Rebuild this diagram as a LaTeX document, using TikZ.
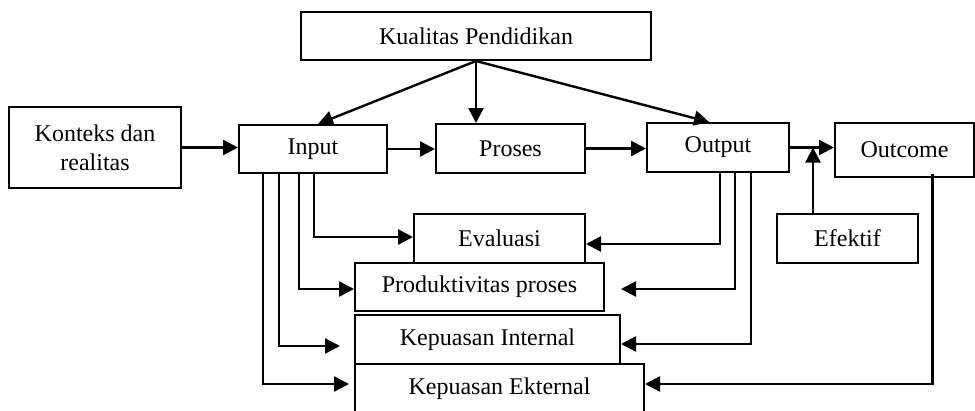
\documentclass[tikz,border=0pt]{standalone}
\usepackage{fontspec}
\setmainfont{Liberation Serif}
\usetikzlibrary{arrows.meta}
\tikzset{
  blok/.style={draw,fill=white,line width=2pt,inner sep=0pt,anchor=north west,
               align=center,font=\fontsize{24}{29}\selectfont},
  panah/.style={line width=2.4pt,-{Triangle[length=15pt,width=15pt]}},
  garis/.style={line width=2.4pt}
}

\begin{document}
\begin{tikzpicture}[x=1pt,y=-1pt]
    \useasboundingbox (0,0) rectangle (975,410);
    \clip (0,0) rectangle (975,410);
    % kotak utama
    \node[blok,minimum width=350pt,minimum height=48pt] (kualitas) at (300,11) {Kualitas Pendidikan};
    \node[blok,minimum width=172pt,minimum height=81pt] (konteks) at (8,106) {Konteks dan\\realitas};
    \node[blok,minimum width=148pt,minimum height=48pt] (input) at (238,124) {Input};
    \node[blok,minimum width=149pt,minimum height=49pt] (proses) at (435,123) {Proses};
    \node[blok,minimum width=142pt,minimum height=49pt] (output) at (646,122) {Output};
    \node[blok,minimum width=139pt,minimum height=54pt] (outcome) at (834,122) {Outcome};
    \node[blok,minimum width=141pt,minimum height=49pt] (efektif) at (776,213) {Efektif};
    % kotak hasil
    \node[blok,minimum width=171pt,minimum height=49pt] (evaluasi) at (413,213) {Evaluasi};
    \node[blok,minimum width=249pt,minimum height=48pt] (produktivitas) at (354,262) {Produktivitas proses};
    \node[blok,minimum width=265pt,minimum height=49pt] (kepint) at (354,314) {Kepuasan Internal};
    \node[blok,minimum width=289pt,minimum height=50pt] (kepeks) at (354,363) {Kepuasan Ekternal};

    % ujung panah yang tidak menyentuh kotak
    \coordinate (ujungInt) at ([xshift=-14pt,yshift=-6.5pt]kepint.west);
    \coordinate (ujungEks) at ([xshift=-5pt,yshift=5pt]kepeks.west);
    \coordinate (ujungProd) at ([xshift=16pt,yshift=-2pt]produktivitas.east);

    % alur utama
    \draw[panah] (konteks.east) -- (konteks.east -| input.west);
    \draw[panah] (input.east) -- (input.east -| proses.west);
    \draw[panah] (proses.east) -- (proses.east -| output.west);
    \draw[panah] (output.east) -- (output.east -| outcome.west);
    \draw[panah] ([xshift=37pt]efektif.north west) -- ([xshift=37pt]efektif.north west |- output.east);

    % dari kualitas
    \draw[panah] (kualitas.south) -- ([xshift=5pt]input.north);
    \draw[panah] (kualitas.south) -- (kualitas.south |- proses.north);
    \draw[panah] (kualitas.south) -- ([xshift=-9pt]output.north);

    % dari input
    \draw[panah] ([xshift=76pt]input.south west) |- ([yshift=1.5pt]evaluasi.west);
    \draw[panah] ([xshift=61pt]input.south west) |- ([yshift=-2pt]produktivitas.west);
    \draw[panah] ([xshift=41pt]input.south west) |- (ujungInt);
    \draw[panah] ([xshift=25pt]input.south west) |- (ujungEks);

    % dari output
    \draw[panah] ([xshift=74pt]output.south west) |- ([yshift=-5.5pt]evaluasi.east);
    \draw[panah] ([xshift=89pt]output.south west) |- (ujungProd);
    \draw[panah] ([xshift=105pt]output.south west) |- ([yshift=-4.5pt]kepint.east);

    % dari outcome
    \draw[panah] ([xshift=28pt,yshift=4pt]outcome.south) |- ([yshift=5pt]kepeks.east);
\end{tikzpicture}
\end{document}
